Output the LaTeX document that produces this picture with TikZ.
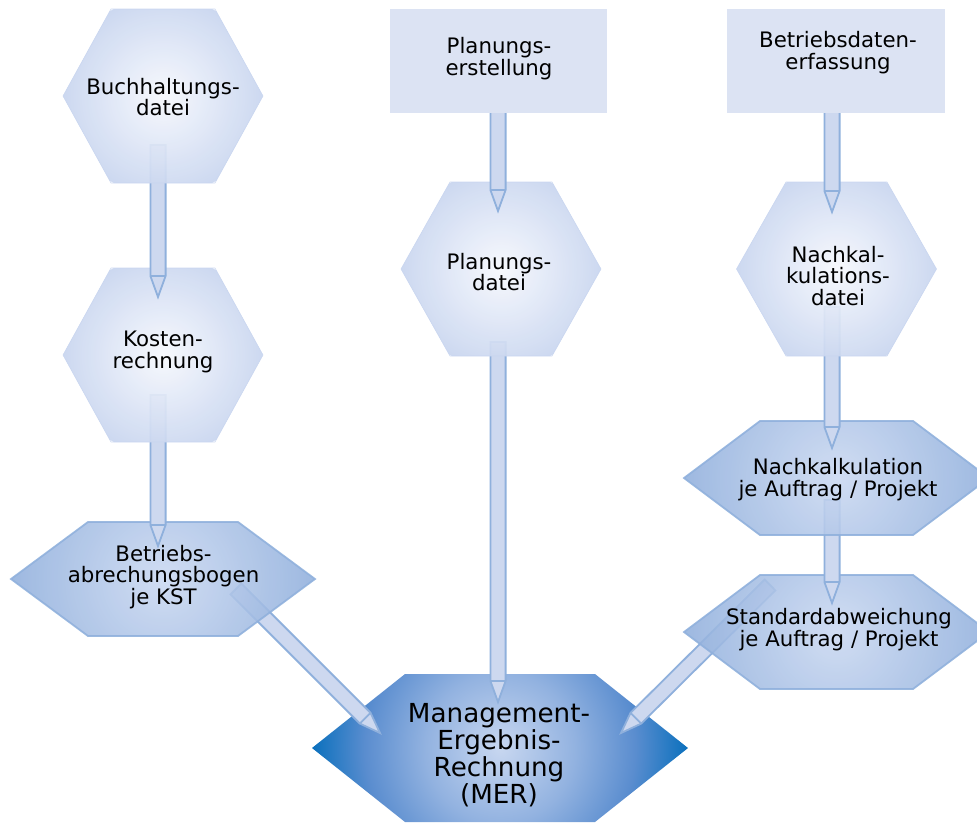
\documentclass[tikz,border=0pt]{standalone}
\usepackage{fontspec}
\setmainfont{DejaVu Sans}
\usetikzlibrary{calc}
\definecolor{rectfill}{HTML}{DCE3F3}
\definecolor{pfill}{HTML}{CDD8EF}
\definecolor{pline}{HTML}{8FB0DC}
\definecolor{lin}{HTML}{F6F8FD}
\definecolor{lout}{HTML}{C8D5EF}
\definecolor{midin}{HTML}{CAD8F1}
\definecolor{midout}{HTML}{90AFDC}
\definecolor{merA}{HTML}{C8D7F0}
\definecolor{merB}{HTML}{92B2E0}
\definecolor{merC}{HTML}{5A8DCF}
\definecolor{merD}{HTML}{0A70BD}
\pgfdeclareradialshading{lightsh}{\pgfpoint{0bp}{0bp}}{color(0bp)=(lin); color(25bp)=(lout); color(50bp)=(lout)}
\pgfdeclareradialshading{midsh}{\pgfpoint{0bp}{0bp}}{color(0bp)=(midin); color(25bp)=(midout); color(50bp)=(midout)}
\pgfdeclareradialshading{mersh}{\pgfpoint{0bp}{0bp}}{color(0bp)=(merA); color(10bp)=(merB); color(18bp)=(merC); color(25bp)=(merD); color(50bp)=(merD)}
\tikzset{
  lbl/.style={font=\fontsize{21.3}{21.8}\selectfont, align=center, inner sep=0pt, text=black},
  merlbl/.style={font=\fontsize{26.2}{27}\selectfont, align=center, inner sep=0pt, text=black},
  pencilbody/.style={fill=pfill, draw=pline, line width=1.8pt, line join=miter},
  pencilline/.style={draw=pline, line width=1.8pt},
  rectbox/.style={fill=rectfill},
  lighthex/.style={shading=lightsh},
  midhex/.style={shading=midsh},
  merhex/.style={shading=mersh},
  lightedge/.style={draw=lout, line width=0.6pt},
  midedge/.style={draw=pline, line width=1.8pt},
  meredge/.style={},
}
% #1 x, #2 y, #3 half width (vertex), #4 half width of top edge, #5 half height, #6 kind, #7 opacity
\newcommand\hexa[7]{%
  \begin{scope}[shift={(#1,#2)}, opacity=#7]
    \begin{scope}
      \clip (-#4,-#5) -- (#4,-#5) -- (#3,0) -- (#4,#5) -- (-#4,#5) -- (-#3,0) -- cycle;
      \shade[#6hex] (0,0) circle[radius=#3pt];
    \end{scope}
    \path[#6edge] (-#4,-#5) -- (#4,-#5) -- (#3,0) -- (#4,#5) -- (-#4,#5) -- (-#3,0) -- cycle;
  \end{scope}}
\newcommand\pencil[2]{%
  \coordinate (ph) at ($(#2)!21pt!(#1)$);
  \path[pencilbody] ($(#1)!7.6pt!90:(#2)$) -- ($(ph)!7.6pt!90:(#2)$) -- (#2) -- ($(ph)!7.6pt!-90:(#2)$) -- ($(#1)!7.6pt!-90:(#2)$) -- cycle;
  \path[pencilline] ($(ph)!7.6pt!90:(#2)$) -- ($(ph)!7.6pt!-90:(#2)$);}
\begin{document}
\begin{tikzpicture}[x=1pt,y=-1pt]
\useasboundingbox (0,0) rectangle (977,822);
\clip (0,0) rectangle (977,822);
% connector end points
\coordinate (a1s) at (158,145); \coordinate (a1e) at (158,297);
\coordinate (a2s) at (158,395); \coordinate (a2e) at (158,546);
\coordinate (a3s) at (236,589); \coordinate (a3e) at (380,733);
\coordinate (a4s) at (498,112); \coordinate (a4e) at (498,211);
\coordinate (a5s) at (498,342); \coordinate (a5e) at (498,702);
\coordinate (a6s) at (832,112); \coordinate (a6e) at (832,212);
\coordinate (a7s) at (832,307); \coordinate (a7e) at (832,448);
\coordinate (a8s) at (832,500); \coordinate (a8e) at (832,603);
\coordinate (a9s) at (770,585); \coordinate (a9e) at (621,733);
% MER
\hexa{500}{748}{188}{95}{74}{mer}{1}
\pencil{a3s}{a3e}
\pencil{a5s}{a5e}
\pencil{a9s}{a9e}
% left column
\hexa{163}{579}{152}{75}{57}{mid}{0.88}
\pencil{a2s}{a2e}
\hexa{163}{355}{100}{52}{87}{light}{0.92}
\pencil{a1s}{a1e}
\hexa{163}{96}{100}{52}{87}{light}{0.92}
% middle column
\hexa{501}{269}{100}{51}{87}{light}{0.92}
\pencil{a4s}{a4e}
\fill[rectbox] (390,9) rectangle (607,113);
% right column
\hexa{836.5}{632}{152.5}{76.5}{57}{mid}{0.88}
\pencil{a8s}{a8e}
\hexa{836.5}{478}{152.5}{76.5}{57}{mid}{0.88}
\pencil{a7s}{a7e}
\hexa{836.5}{269}{100}{50.5}{87}{light}{0.92}
\pencil{a6s}{a6e}
\fill[rectbox] (727,9) rectangle (945,113);
% labels
\node[lbl] (plan) at (499,59) {Planungs-\\erstellung};
\node[lbl] (bde) at (838,53) {Betriebsdaten-\\erfassung};
\node[lbl] (buch) at (163,97) {Buchhaltungs-\\datei};
\node[lbl] (kosten) at (163,352) {Kosten-\\rechnung};
\node[lbl] (bab) at (163.5,577) {Betriebs-\\abrechungsbogen\\je KST};
\node[lbl] (pdatei) at (499,272) {Planungs-\\datei};
\node[lbl] (ndatei) at (838,276) {Nachkal-\\kulations-\\datei};
\node[lbl] (nk) at (838,480) {Nachkalkulation\\je Auftrag / Projekt};
\node[lbl] (std) at (839,630) {Standardabweichung\\je Auftrag / Projekt};
\node[merlbl] (mer) at (499,755) {Management-\\Ergebnis-\\Rechnung\\(MER)};
\end{tikzpicture}
\end{document}
